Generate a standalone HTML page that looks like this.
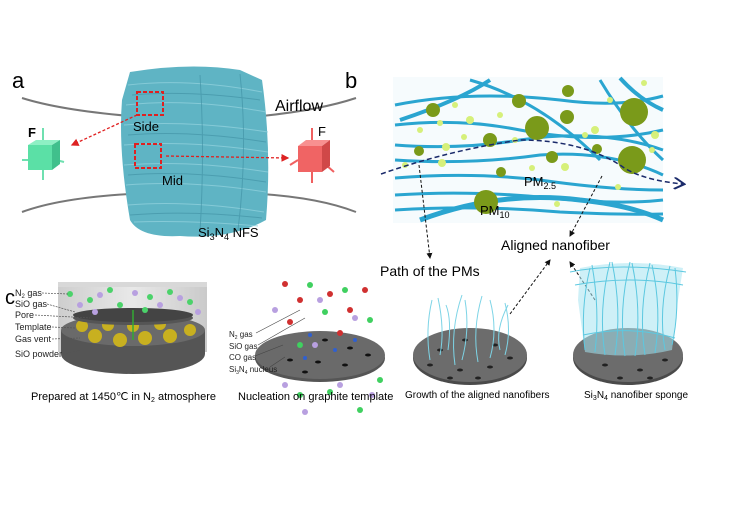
<!DOCTYPE html>
<html><head><meta charset="utf-8"><style>
html,body{margin:0;padding:0;background:#fff}
svg{display:block;font-family:"Liberation Sans",Arial,sans-serif}
</style></head><body>
<svg width="750" height="514" viewBox="0 0 750 514" xmlns="http://www.w3.org/2000/svg">
<defs>
<marker id="ar" markerWidth="6" markerHeight="6" refX="5" refY="3" orient="auto"><path d="M0,0 L6,3 L0,6z" fill="#d22"/></marker>
<marker id="ak" markerWidth="6" markerHeight="6" refX="5" refY="3" orient="auto"><path d="M0,0 L6,3 L0,6z" fill="#111"/></marker>
<marker id="ab" markerWidth="8" markerHeight="8" refX="6" refY="4" orient="auto"><path d="M0,0 L7,4 L0,8" fill="none" stroke="#1a2a6a" stroke-width="1.3"/></marker>
<linearGradient id="cyl" x1="0" x2="1"><stop offset="0" stop-color="#c8c8c8"/><stop offset=".5" stop-color="#e6e6e6"/><stop offset="1" stop-color="#c4c4c4"/></linearGradient>
</defs>

<!-- panel a airflow curves -->
<path d="M22,98 Q60,110 130,116" stroke="#777" stroke-width="2" fill="none"/>
<path d="M262,116 Q320,110 356,98" stroke="#777" stroke-width="2" fill="none"/>
<path d="M22,212 Q60,198 130,194" stroke="#777" stroke-width="2" fill="none"/>
<path d="M262,194 Q320,198 356,212" stroke="#777" stroke-width="2" fill="none"/>

<!-- sponge -->
<path d="M130,72 Q190,62 240,70 L262,80 Q272,150 266,220 Q230,240 180,236 Q140,238 130,220 Q118,150 122,100 Z" fill="#5fb4c4"/>
<g stroke="#8fd0dc" stroke-width="1" fill="none" opacity=".8">
<path d="M128,85 Q190,78 262,92"/><path d="M126,105 Q190,98 266,112"/><path d="M124,125 Q190,120 268,132"/>
<path d="M124,145 Q190,140 268,152"/><path d="M124,165 Q190,160 268,172"/><path d="M126,185 Q190,180 266,192"/>
<path d="M128,205 Q190,200 264,212"/><path d="M134,222 Q190,220 258,226"/>
</g>
<g stroke="#3f8fa2" stroke-width="1" fill="none" opacity=".6">
<path d="M132,95 Q190,90 260,100"/><path d="M128,135 Q190,130 266,142"/><path d="M128,175 Q190,170 266,182"/><path d="M130,215 Q190,210 262,218"/>
<path d="M200,75 Q205,150 200,232"/><path d="M240,74 Q248,150 238,230"/>
</g>
<rect x="137" y="92" width="26" height="23" fill="none" stroke="#e02020" stroke-width="2" stroke-dasharray="4,2"/>
<rect x="135" y="144" width="26" height="24" fill="none" stroke="#e02020" stroke-width="2" stroke-dasharray="4,2"/>
<line x1="137" y1="115" x2="72" y2="145" stroke="#e02020" stroke-width="1.3" stroke-dasharray="3,2" marker-end="url(#ar)"/>
<line x1="166" y1="156" x2="288" y2="158" stroke="#e02020" stroke-width="1.3" stroke-dasharray="3,2" marker-end="url(#ar)"/>
<text x="133" y="131" font-size="13">Side</text>
<text x="162" y="185" font-size="13">Mid</text>
<text x="198" y="237" font-size="13">Si<tspan font-size="9" dy="3">3</tspan><tspan dy="-3">N</tspan><tspan font-size="9" dy="3">4</tspan><tspan dy="-3"> NFS</tspan></text>
<text x="12" y="88" font-size="22">a</text>
<text x="345" y="88" font-size="22">b</text>
<text x="275" y="111" font-size="16">Airflow</text>

<!-- green cube -->
<g stroke="#6fe0b0" stroke-width="2"><line x1="43" y1="140" x2="43" y2="128"/><line x1="43" y1="170" x2="43" y2="180"/><line x1="30" y1="160" x2="22" y2="160"/><line x1="56" y1="160" x2="64" y2="162"/></g>
<polygon points="28,145 52,145 60,140 36,140" fill="#8ef0c4"/>
<polygon points="28,145 52,145 52,170 28,170" fill="#5be0a6"/>
<polygon points="52,145 60,140 60,164 52,170" fill="#40c08c"/>
<text x="28" y="137" font-size="13" font-weight="bold">F</text>
<!-- red cube -->
<g stroke="#f06060" stroke-width="2"><line x1="312" y1="128" x2="312" y2="140"/><line x1="312" y1="170" x2="312" y2="183"/><line x1="298" y1="160" x2="290" y2="165"/><line x1="326" y1="165" x2="334" y2="172"/></g>
<polygon points="298,146 322,146 330,140 306,140" fill="#f89090"/>
<polygon points="298,146 322,146 322,172 298,172" fill="#f06464"/>
<polygon points="322,146 330,140 330,166 322,172" fill="#d04848"/>
<text x="318" y="136" font-size="13">F</text>

<!-- panel b -->
<rect x="393" y="77" width="270" height="146" fill="#f6fbfd"/>
<g stroke="#2aa5d0" fill="none" stroke-width="3">
<path d="M395,105 Q470,90 560,100 Q620,108 663,96"/>
<path d="M395,125 Q460,118 520,130 Q600,145 663,130"/>
<path d="M395,145 Q460,150 520,140 Q600,128 663,150"/>
<path d="M395,160 Q470,165 540,155 Q610,150 663,175"/>
<path d="M395,178 Q470,172 540,180 Q610,190 663,190"/>
<path d="M395,195 Q470,190 550,198 Q620,205 663,200"/>
<path d="M395,210 Q480,205 560,212 Q620,215 663,214"/>
<path d="M420,220 Q500,190 580,200 Q630,205 663,220" stroke-width="5"/>
<path d="M400,120 Q460,100 490,80" stroke-width="4"/>
<path d="M600,80 Q630,130 663,160"/>
<path d="M620,78 Q640,100 663,110" stroke-width="4"/>
<path d="M470,80 Q540,100 600,160"/>
</g>
<g fill="#7a9a1a">
<circle cx="433" cy="110" r="7"/><circle cx="519" cy="101" r="7"/><circle cx="568" cy="91" r="6"/><circle cx="567" cy="117" r="7"/><circle cx="537" cy="128" r="12"/><circle cx="634" cy="112" r="14"/><circle cx="632" cy="160" r="14"/><circle cx="490" cy="140" r="7"/><circle cx="552" cy="157" r="6"/><circle cx="501" cy="172" r="5"/><circle cx="486" cy="202" r="12"/><circle cx="419" cy="151" r="5"/><circle cx="597" cy="149" r="5"/>
</g>
<g fill="#d6f07a">
<circle cx="440" cy="123" r="3"/><circle cx="470" cy="120" r="4"/><circle cx="500" cy="115" r="3"/><circle cx="515" cy="140" r="3"/><circle cx="446" cy="147" r="4"/><circle cx="464" cy="137" r="3"/><circle cx="442" cy="163" r="4"/><circle cx="405" cy="165" r="3"/><circle cx="532" cy="168" r="3"/><circle cx="565" cy="167" r="4"/><circle cx="585" cy="135" r="3"/><circle cx="595" cy="130" r="4"/><circle cx="610" cy="100" r="3"/><circle cx="644" cy="83" r="3"/><circle cx="652" cy="150" r="3"/><circle cx="655" cy="135" r="4"/><circle cx="618" cy="187" r="3"/><circle cx="557" cy="204" r="3"/><circle cx="455" cy="105" r="3"/><circle cx="420" cy="130" r="3"/>
</g>
<path d="M381,174 Q450,150 520,140 Q580,140 620,165 Q640,180 683,184" stroke="#1a2a6a" stroke-width="1.5" fill="none" stroke-dasharray="5,3" marker-end="url(#ab)"/>
<text x="524" y="186" font-size="13">PM<tspan font-size="9" dy="3">2.5</tspan></text>
<text x="480" y="215" font-size="13">PM<tspan font-size="9" dy="3">10</tspan></text>
<line x1="419" y1="165" x2="430" y2="258" stroke="#111" stroke-width="1" stroke-dasharray="3,2" marker-end="url(#ak)"/>
<line x1="602" y1="176" x2="570" y2="236" stroke="#111" stroke-width="1" stroke-dasharray="3,2" marker-end="url(#ak)"/>
<text x="501" y="250" font-size="14">Aligned nanofiber</text>
<text x="380" y="276" font-size="14">Path of the PMs</text>
<line x1="510" y1="314" x2="550" y2="260" stroke="#111" stroke-width="1" stroke-dasharray="3,2" marker-end="url(#ak)"/>
<line x1="595" y1="300" x2="570" y2="262" stroke="#111" stroke-width="1" stroke-dasharray="3,2" marker-end="url(#ak)"/>

<!-- panel c -->
<text x="5" y="304" font-size="20">c</text>
<rect x="58" y="282" width="149" height="70" fill="url(#cyl)" opacity=".9"/>
<rect x="58" y="282" width="149" height="5" fill="#d8d8d8"/>
<ellipse cx="133" cy="354" rx="72" ry="20" fill="#555"/>
<rect x="61" y="330" width="144" height="24" fill="#555"/>
<ellipse cx="133" cy="330" rx="72" ry="16" fill="#6a6a6a"/>
<g fill="#c8b020"><circle cx="95" cy="336" r="7"/><circle cx="120" cy="340" r="7"/><circle cx="145" cy="338" r="7"/><circle cx="170" cy="336" r="7"/><circle cx="190" cy="330" r="6"/><circle cx="82" cy="326" r="6"/><circle cx="108" cy="325" r="6"/><circle cx="160" cy="324" r="6"/><circle cx="133" cy="326" r="6"/></g>
<ellipse cx="133" cy="318" rx="60" ry="7" fill="#555"/>
<ellipse cx="133" cy="315" rx="60" ry="7" fill="#444"/>
<line x1="133" y1="310" x2="133" y2="340" stroke="#3a3" stroke-width="1.5"/>
<g fill="#4bd26a"><circle cx="70" cy="294" r="3"/><circle cx="90" cy="300" r="3"/><circle cx="110" cy="290" r="3"/><circle cx="150" cy="297" r="3"/><circle cx="170" cy="292" r="3"/><circle cx="190" cy="302" r="3"/><circle cx="120" cy="305" r="3"/><circle cx="145" cy="310" r="3"/></g>
<g fill="#b8a0e0"><circle cx="80" cy="305" r="3"/><circle cx="100" cy="295" r="3"/><circle cx="135" cy="293" r="3"/><circle cx="160" cy="305" r="3"/><circle cx="180" cy="298" r="3"/><circle cx="198" cy="312" r="3"/><circle cx="95" cy="312" r="3"/></g>
<g font-size="9" fill="#222">
<text x="15" y="296">N<tspan font-size="6" dy="2">2</tspan><tspan dy="-2"> gas</tspan></text>
<text x="15" y="307">SiO gas</text>
<text x="15" y="318">Pore</text>
<text x="15" y="330">Template</text>
<text x="15" y="342">Gas vent</text>
<text x="15" y="357">SiO powder</text>
</g>
<g stroke="#555" stroke-width=".7" stroke-dasharray="2,1"><line x1="42" y1="293" x2="68" y2="294"/><line x1="47" y1="304" x2="75" y2="312"/><line x1="35" y1="315" x2="90" y2="318"/><line x1="52" y1="327" x2="75" y2="328"/><line x1="52" y1="339" x2="80" y2="338"/><line x1="63" y1="354" x2="80" y2="350"/></g>
<text x="31" y="400" font-size="11">Prepared at 1450℃ in N<tspan font-size="7" dy="2">2</tspan><tspan dy="-2"> atmosphere</tspan></text>

<!-- nucleation -->
<ellipse cx="320" cy="358" rx="65" ry="24" fill="#555"/>
<ellipse cx="320" cy="355" rx="65" ry="24" fill="#6a6a6a"/>
<g fill="#111"><ellipse cx="300" cy="345" rx="3" ry="1.5"/><ellipse cx="325" cy="340" rx="3" ry="1.5"/><ellipse cx="350" cy="348" rx="3" ry="1.5"/><ellipse cx="290" cy="360" rx="3" ry="1.5"/><ellipse cx="318" cy="362" rx="3" ry="1.5"/><ellipse cx="345" cy="365" rx="3" ry="1.5"/><ellipse cx="368" cy="355" rx="3" ry="1.5"/><ellipse cx="305" cy="372" rx="3" ry="1.5"/></g>
<g fill="#d03030"><circle cx="285" cy="284" r="3"/><circle cx="300" cy="300" r="3"/><circle cx="330" cy="294" r="3"/><circle cx="350" cy="310" r="3"/><circle cx="365" cy="290" r="3"/><circle cx="290" cy="322" r="3"/><circle cx="340" cy="333" r="3"/></g>
<g fill="#40d060"><circle cx="310" cy="285" r="3"/><circle cx="325" cy="312" r="3"/><circle cx="345" cy="290" r="3"/><circle cx="370" cy="320" r="3"/><circle cx="300" cy="345" r="3"/><circle cx="380" cy="380" r="3"/><circle cx="300" cy="395" r="3"/><circle cx="330" cy="392" r="3"/><circle cx="360" cy="410" r="3"/></g>
<g fill="#b8a0e0"><circle cx="275" cy="310" r="3"/><circle cx="320" cy="300" r="3"/><circle cx="355" cy="318" r="3"/><circle cx="315" cy="345" r="3"/><circle cx="285" cy="385" r="3"/><circle cx="340" cy="385" r="3"/><circle cx="305" cy="412" r="3"/><circle cx="372" cy="395" r="3"/></g>
<g fill="#3060d0"><circle cx="310" cy="335" r="2"/><circle cx="335" cy="350" r="2"/><circle cx="305" cy="358" r="2"/><circle cx="355" cy="340" r="2"/></g>
<g font-size="8" fill="#222">
<text x="229" y="337">N<tspan font-size="5" dy="2">2</tspan><tspan dy="-2">  gas</tspan></text>
<text x="229" y="349">SiO gas</text>
<text x="229" y="360">CO gas</text>
<text x="229" y="372">Si<tspan font-size="5" dy="2">3</tspan><tspan dy="-2">N</tspan><tspan font-size="5" dy="2">4</tspan><tspan dy="-2"> nucleus</tspan></text>
</g>
<g stroke="#444" stroke-width=".6"><line x1="256" y1="333" x2="300" y2="310"/><line x1="258" y1="345" x2="305" y2="318"/><line x1="255" y1="356" x2="283" y2="345"/><line x1="270" y1="367" x2="285" y2="357"/></g>
<text x="238" y="400" font-size="11">Nucleation on graphite template</text>

<!-- growth -->
<ellipse cx="470" cy="358" rx="57" ry="27" fill="#4a4a4a"/>
<ellipse cx="470" cy="355" rx="57" ry="27" fill="#6c6c6c"/>
<g fill="#222"><ellipse cx="440" cy="350" rx="3" ry="1.5"/><ellipse cx="465" cy="340" rx="3" ry="1.5"/><ellipse cx="495" cy="345" rx="3" ry="1.5"/><ellipse cx="430" cy="365" rx="3" ry="1.5"/><ellipse cx="460" cy="370" rx="3" ry="1.5"/><ellipse cx="490" cy="367" rx="3" ry="1.5"/><ellipse cx="510" cy="358" rx="3" ry="1.5"/><ellipse cx="450" cy="378" rx="3" ry="1.5"/><ellipse cx="478" cy="378" rx="3" ry="1.5"/></g>
<g stroke="#7dd4e6" stroke-width="1" fill="none">
<path d="M430,360 Q425,330 432,300"/><path d="M440,355 Q445,330 438,298"/><path d="M455,365 Q450,330 462,295"/><path d="M462,360 Q470,330 465,300"/><path d="M478,362 Q472,330 482,296"/><path d="M490,358 Q498,330 490,300"/><path d="M500,350 Q495,330 508,305"/><path d="M505,355 Q512,330 505,303"/><path d="M448,350 Q452,320 446,305"/>
</g>
<text x="405" y="398" font-size="10">Growth of the aligned nanofibers</text>

<!-- sponge disc -->
<ellipse cx="628" cy="358" rx="55" ry="27" fill="#4a4a4a"/>
<ellipse cx="628" cy="355" rx="55" ry="27" fill="#6c6c6c"/>
<g fill="#222"><ellipse cx="605" cy="365" rx="3" ry="1.5"/><ellipse cx="640" cy="370" rx="3" ry="1.5"/><ellipse cx="665" cy="360" rx="3" ry="1.5"/><ellipse cx="620" cy="378" rx="3" ry="1.5"/><ellipse cx="650" cy="378" rx="3" ry="1.5"/></g>
<path d="M580,268 Q630,258 683,268 L678,300 L672,350 Q630,360 585,352 L578,300 Z" fill="#a6e4f0" opacity=".55"/>
<g stroke="#5cc8e0" stroke-width="1" fill="none">
<path d="M585,350 Q580,310 590,268"/><path d="M595,352 Q600,310 592,265"/><path d="M605,355 Q598,310 610,262"/><path d="M615,355 Q622,310 612,262"/><path d="M625,356 Q618,310 630,262"/><path d="M635,356 Q642,310 632,263"/><path d="M645,355 Q638,310 650,263"/><path d="M655,353 Q662,310 652,265"/><path d="M665,350 Q658,310 670,266"/><path d="M672,345 Q680,310 675,268"/>
<path d="M570,272 Q620,262 686,272"/><path d="M575,285 Q630,275 683,285"/><path d="M583,335 Q630,325 675,338"/>
</g>
<text x="584" y="398" font-size="10">Si<tspan font-size="7" dy="2">3</tspan><tspan dy="-2">N</tspan><tspan font-size="7" dy="2">4</tspan><tspan dy="-2"> nanofiber sponge</tspan></text>
</svg>
</body></html>
